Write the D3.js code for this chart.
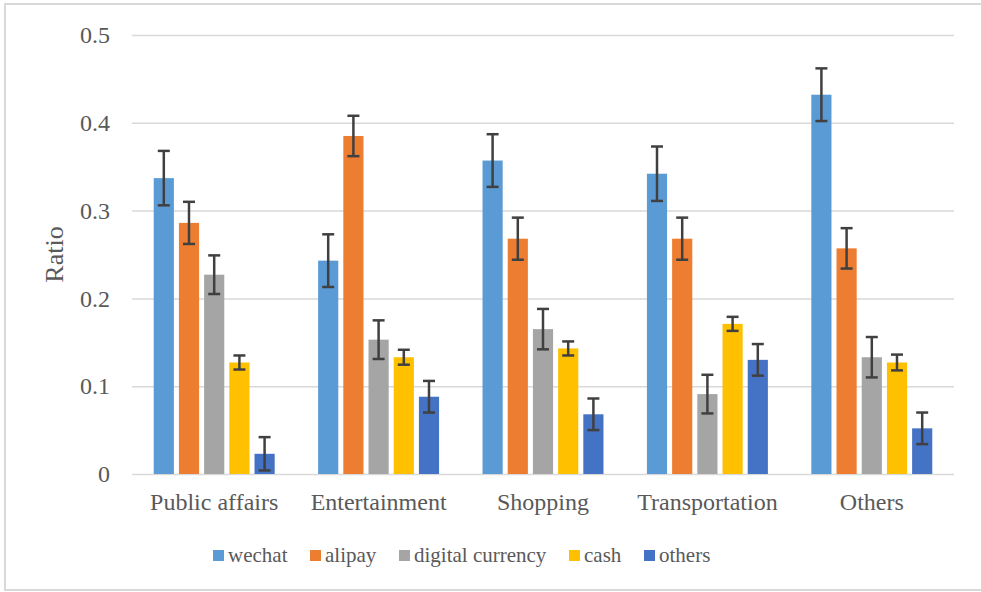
<!DOCTYPE html>
<html>
<head>
<meta charset="utf-8">
<script src="https://cdn.jsdelivr.net/npm/d3@7"></script>
<style>
  html, body { margin: 0; padding: 0; background: #fff; }
  svg { display: block; }
  svg text { font-family: "Liberation Serif", "Tinos", "Times New Roman", Times, "DejaVu Serif", serif !important; fill: #595959; }
</style>
</head>
<body>
<svg id="chart" width="981" height="592"></svg>
<script>
const categories = ["Public affairs", "Entertainment", "Shopping", "Transportation", "Others"];
const seriesNames = ["wechat", "alipay", "digital currency", "cash", "others"];
const seriesColors = ["#5B9BD5", "#ED7D31", "#A5A5A5", "#FFC000", "#4472C4"];
const wechat  = [0.337, 0.243, 0.357, 0.342, 0.432];
const alipay  = [0.286, 0.385, 0.268, 0.268, 0.257];
const digital = [0.227, 0.153, 0.165, 0.091, 0.133];
const cash    = [0.127, 0.133, 0.143, 0.171, 0.127];
const others  = [0.023, 0.088, 0.068, 0.130, 0.052];
const wechatErr  = [0.031, 0.030, 0.030, 0.031, 0.030];
const alipayErr  = [0.024, 0.023, 0.024, 0.024, 0.023];
const digitalErr = [0.022, 0.022, 0.023, 0.022, 0.023];
const cashErr    = [0.008, 0.0085, 0.008, 0.008, 0.009];
const othersErr  = [0.019, 0.018, 0.018, 0.018, 0.018];
const yTicks = [0, 0.1, 0.2, 0.3, 0.4, 0.5];
const yTickLabels = ["0", "0.1", "0.2", "0.3", "0.4", "0.5"];
const yTitle = "Ratio";

const seriesValues = [wechat, alipay, digital, cash, others];
const seriesErrors = [wechatErr, alipayErr, digitalErr, cashErr, othersErr];

const svg = d3.select("#chart");

// outer border
svg.append("rect").attr("x", 5).attr("y", 4).attr("width", 1000).attr("height", 586)
  .attr("fill", "none").attr("stroke", "#d9d9d9").attr("stroke-width", 2);

const plotL = 132, plotR = 954, plotT = 35, plotB = 474;

const y = d3.scaleLinear().domain([0, 0.5]).range([plotB, plotT]);
const x0 = d3.scaleBand().domain(categories).range([plotL, plotR])
  .paddingInner(0.2336).paddingOuter(0.1168);
const x1 = d3.scaleBand().domain(seriesNames).range([0, x0.bandwidth()])
  .paddingInner(0.2).paddingOuter(0.1);

// gridlines
const yAxis = d3.axisLeft(y).tickValues(yTicks)
  .tickFormat((d, i) => yTickLabels[i]).tickSize(-(plotR - plotL)).tickPadding(22);
const gy = svg.append("g").attr("transform", `translate(${plotL},0)`).call(yAxis);
gy.attr("font-family", null);
gy.select(".domain").remove();
gy.selectAll(".tick line").attr("stroke", "#d9d9d9").attr("stroke-width", 1.5);
gy.selectAll(".tick text").attr("font-size", 24).attr("fill", "#595959");

// x axis labels
const xAxis = d3.axisBottom(x0).tickSize(0).tickPadding(19);
const gx = svg.append("g").attr("transform", `translate(0,${plotB})`).call(xAxis);
gx.attr("font-family", null);
gx.select(".domain").remove();
gx.selectAll(".tick text").attr("font-size", 24).attr("fill", "#595959");

// bars
const rows = [];
categories.forEach((c, ci) => {
  seriesNames.forEach((s, si) => {
    rows.push({ c, s, si, v: seriesValues[si][ci], e: seriesErrors[si][ci] });
  });
});

svg.append("g").selectAll("rect.bar").data(rows).enter().append("rect")
  .attr("class", "bar")
  .attr("x", d => x0(d.c) + x1(d.s))
  .attr("width", x1.bandwidth())
  .attr("y", d => y(d.v))
  .attr("height", d => y(0) - y(d.v))
  .attr("fill", d => seriesColors[d.si]);

// error bars
const capW = 6;
const eb = svg.append("g").attr("stroke", "#404040").attr("stroke-width", 2.5);
rows.forEach(d => {
  const cx = x0(d.c) + x1(d.s) + x1.bandwidth() / 2;
  const y1 = y(d.v + d.e), y2 = y(d.v - d.e);
  eb.append("line").attr("x1", cx).attr("x2", cx).attr("y1", y1).attr("y2", y2);
  eb.append("line").attr("x1", cx - capW).attr("x2", cx + capW).attr("y1", y1).attr("y2", y1);
  eb.append("line").attr("x1", cx - capW).attr("x2", cx + capW).attr("y1", y2).attr("y2", y2);
});

// y title
svg.append("text").attr("transform", `translate(63,${(plotT + plotB) / 2}) rotate(-90)`)
  .attr("text-anchor", "middle").attr("font-size", 26).text(yTitle);

// legend
const legendX = [213, 310, 399, 569, 644];
const lg = svg.append("g");
seriesNames.forEach((s, i) => {
  lg.append("rect").attr("x", legendX[i]).attr("y", 550).attr("width", 11).attr("height", 11)
    .attr("fill", seriesColors[i]);
  lg.append("text").attr("x", legendX[i] + 15).attr("y", 562).attr("font-size", 21).text(s);
});
</script>
</body>
</html>
